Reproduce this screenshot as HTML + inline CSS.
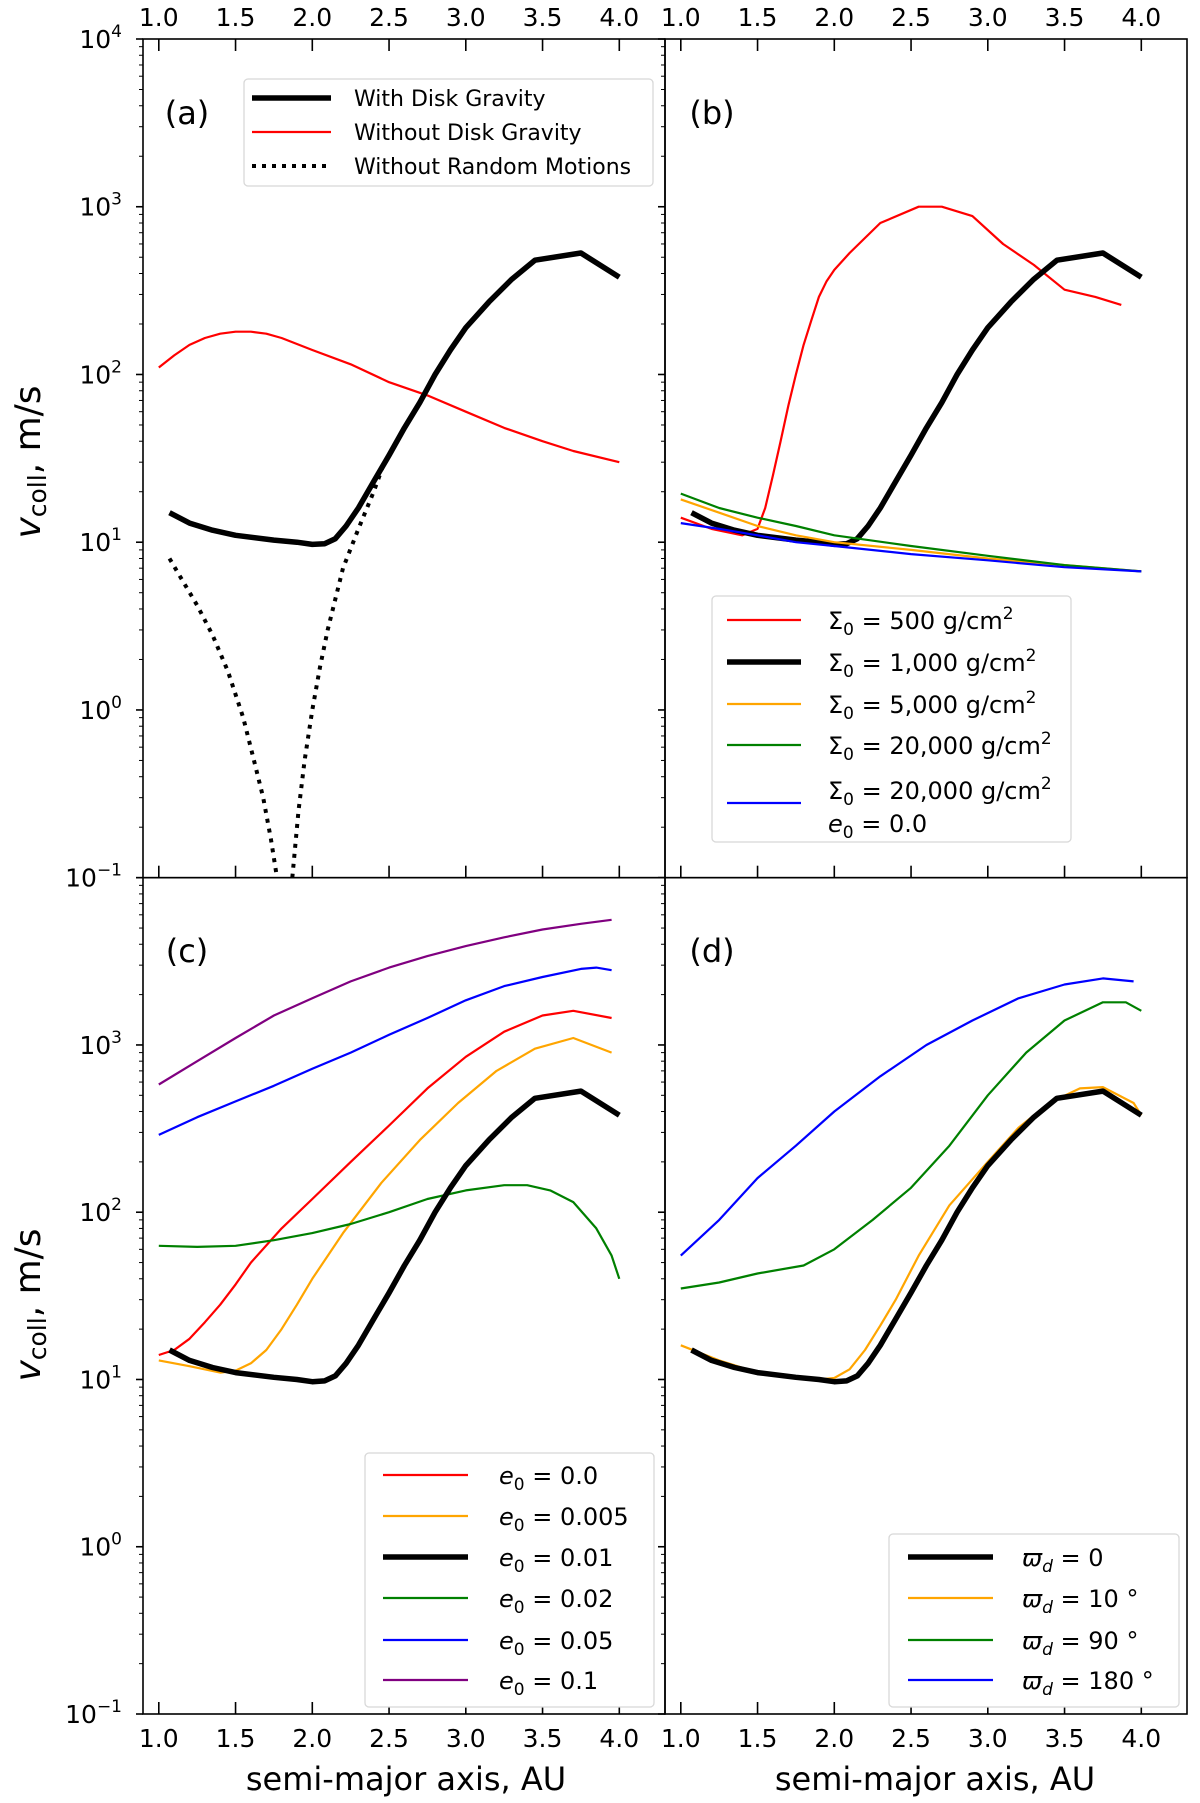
<!DOCTYPE html>
<html><head><meta charset="utf-8"><style>
html,body{margin:0;padding:0;background:#fff;}
svg{display:block;font-family:"DejaVu Sans","Liberation Sans",sans-serif;}
</style></head><body>
<svg id="fig" width="1200" height="1803" viewBox="0 0 1200 1803" xmlns="http://www.w3.org/2000/svg"></svg>
<script>
// ---- data ----
const blackX = [1.07,1.2,1.35,1.5,1.75,1.9,2.0,2.08,2.15,2.22,2.3,2.4,2.5,2.6,2.7,2.8,2.9,3.0,3.15,3.3,3.45,3.75,4.0];
const blackY = [15,13,11.8,11,10.3,10,9.7,9.8,10.5,12.5,16,23,33,48,68,100,140,190,270,370,480,530,380];
const aRedX = [1.0,1.1,1.2,1.3,1.4,1.5,1.6,1.7,1.8,2.0,2.25,2.5,2.75,3.0,3.25,3.5,3.7,4.0];
const aRedY = [110,130,150,165,175,180,180,175,165,140,115,90,75,60,48,40,35,30];
const dotLX = [1.07,1.15,1.25,1.35,1.45,1.55,1.62,1.68,1.73,1.77];
const dotLY = [8,6,4.2,2.8,1.7,0.9,0.5,0.3,0.17,0.1];
const dotRX = [1.87,1.91,1.95,2.0,2.05,2.1,2.2,2.3,2.4,2.47];
const dotRY = [0.1,0.25,0.5,1,1.8,3,7,12,20,30];
const bRedX = [1.0,1.2,1.4,1.5,1.55,1.6,1.65,1.7,1.75,1.8,1.85,1.9,1.95,2.0,2.1,2.3,2.55,2.7,2.9,3.1,3.3,3.5,3.7,3.87];
const bRedY = [14,12,11,12,16,25,40,65,100,150,210,290,360,420,530,800,1000,1000,880,600,450,320,290,260];
const bX = [1.0,1.25,1.5,1.75,2.0,2.5,3.0,3.5,4.0];
const bOrangeY = [18,15,12.5,11,10,9,8,7.3,6.7];
const bGreenY = [19.5,16,14,12.5,11,9.5,8.3,7.3,6.7];
const bBlueY = [13,12,11,10,9.5,8.5,7.8,7.1,6.7];
const cPurpleX = [1.0,1.25,1.5,1.75,2.0,2.25,2.5,2.75,3.0,3.25,3.5,3.75,3.95];
const cPurpleY = [580,800,1100,1500,1900,2400,2900,3400,3900,4400,4900,5300,5600];
const cBlueX = [1.0,1.25,1.5,1.75,2.0,2.25,2.5,2.75,3.0,3.25,3.5,3.75,3.85,3.95];
const cBlueY = [290,370,460,570,720,900,1150,1450,1850,2250,2550,2850,2900,2800];
const cRedX = [1.0,1.1,1.2,1.3,1.4,1.5,1.6,1.8,2.0,2.25,2.5,2.75,3.0,3.25,3.5,3.7,3.95];
const cRedY = [14,15,17.5,22,28,37,50,80,120,200,330,550,850,1200,1500,1600,1450];
const cOrangeX = [1.0,1.2,1.4,1.5,1.6,1.7,1.8,1.9,2.0,2.2,2.45,2.7,2.95,3.2,3.45,3.7,3.95];
const cOrangeY = [13,12,11,11.3,12.5,15,20,28,40,75,150,270,450,700,950,1100,900];
const cGreenX = [1.0,1.25,1.5,1.75,2.0,2.25,2.5,2.75,3.0,3.25,3.4,3.55,3.7,3.85,3.95,4.0];
const cGreenY = [63,62,63,68,75,85,100,120,135,145,145,135,115,80,55,40];
const dOrangeX = [1.0,1.25,1.5,1.75,1.9,2.0,2.1,2.2,2.3,2.4,2.55,2.75,3.0,3.2,3.4,3.6,3.75,3.95,4.0];
const dOrangeY = [16,13,11,10.3,10,10.2,11.5,15,21,30,55,110,200,320,450,550,560,450,380];
const dGreenX = [1.0,1.25,1.5,1.8,2.0,2.25,2.5,2.75,3.0,3.25,3.5,3.75,3.9,4.0];
const dGreenY = [35,38,43,48,60,90,140,250,500,900,1400,1800,1800,1600];
const dBlueX = [1.0,1.25,1.5,1.75,2.0,2.3,2.6,2.9,3.2,3.5,3.75,3.95];
const dBlueY = [55,90,160,250,400,650,1000,1400,1900,2300,2500,2400];
const xTicks = [1.0,1.5,2.0,2.5,3.0,3.5,4.0];
const xTickLabels = ["1.0","1.5","2.0","2.5","3.0","3.5","4.0"];
const yExps = [-1,0,1,2,3,4];

// ---- layout ----
const NS="http://www.w3.org/2000/svg";
const svg=document.getElementById('fig');
const panels={
 a:{L:143,R:665,T:39,B:877.7},
 b:{L:665,R:1187,T:39,B:877.7},
 c:{L:143,R:665,T:877.7,B:1714},
 d:{L:665,R:1187,T:877.7,B:1714}
};
function sx(p,x){return p.L+15.8+(x-1)*153.5;}
function sy(p,v){return p.B-(Math.log10(v)+1)*(p.B-p.T)/5;}
function mk(tag,attrs,parent){const e=document.createElementNS(NS,tag);for(const k in attrs)e.setAttribute(k,attrs[k]);(parent||svg).appendChild(e);return e;}

const defs=mk('defs',{});
for(const k in panels){
 const p=panels[k];
 const cp=mk('clipPath',{id:'clip-'+k},defs);
 mk('rect',{x:p.L,y:p.T,width:p.R-p.L,height:p.B-p.T},cp);
}

function series(k,xs,ys,color,w,name,dash){
 const p=panels[k];
 let d='';
 for(let i=0;i<xs.length;i++){d+=(i?'L':'M')+sx(p,xs[i]).toFixed(1)+','+sy(p,ys[i]).toFixed(1);}
 const e=mk('path',{d:d,fill:'none',stroke:color,'stroke-width':w,'stroke-linejoin':'round','clip-path':'url(#clip-'+k+')'});
 if(dash)e.setAttribute('stroke-dasharray',dash);
 
 
 return e;
}

for(const k in panels){
 const p=panels[k];
 const g=mk('g',{});
 
 
 mk('rect',{x:p.L,y:p.T,width:p.R-p.L,height:p.B-p.T,fill:'none',stroke:'#000','stroke-width':1.6},g);
 xTicks.forEach(t=>{
   const x=sx(p,t);
   mk('line',{x1:x,x2:x,y1:p.B,y2:p.B-12,stroke:'#000','stroke-width':1.6},g);
   if(k==='a'||k==='b') mk('line',{x1:x,x2:x,y1:p.T,y2:p.T+12,stroke:'#000','stroke-width':1.6},g);
 });
 for(let e=-1;e<=4;e++){
   mk('line',{x1:p.L,x2:p.L-7,y1:sy(p,Math.pow(10,e)),y2:sy(p,Math.pow(10,e)),stroke:'#000','stroke-width':1.6},g);
   if(e<4) for(let m=2;m<=9;m++){const y=sy(p,m*Math.pow(10,e));mk('line',{x1:p.L,x2:p.L-4,y1:y,y2:y,stroke:'#000','stroke-width':1},g);}
 }
}
function txt(x,y,s,size,anchor,name,extra){
 const t=mk('text',Object.assign({x:x,y:y,'font-size':size,'text-anchor':anchor||'middle',fill:'#000'},extra||{}));
 t.textContent=s;
 
 
 return t;
}
['a','b'].forEach(k=>xTicks.forEach((t,i)=>txt(sx(panels[k],t),26,xTickLabels[i],25,'middle','top-x-tick-label')));
['c','d'].forEach(k=>xTicks.forEach((t,i)=>txt(sx(panels[k],t),1747,xTickLabels[i],25,'middle','bottom-x-tick-label')));
['a','c'].forEach(k=>yExps.forEach(e=>{
 if(k==='c'&&e===4)return;
 const p=panels[k];const y=sy(p,Math.pow(10,e));
 const t=txt(122,y+9,'',25,'end','y-tick-label');
 const base=document.createElementNS(NS,'tspan');base.textContent='10';
 const s=document.createElementNS(NS,'tspan');
 s.setAttribute('font-size','17');s.setAttribute('dy','-11');
 s.textContent=(e<0?'\u2212':'')+Math.abs(e);
 t.appendChild(base);t.appendChild(s);
}));
txt(406,1790,'semi-major axis, AU',32,'middle','x-axis-title');
txt(935,1790,'semi-major axis, AU',32,'middle','x-axis-title');
function ylab(cy){
 const t=mk('text',{x:0,y:0,'font-size':36,'text-anchor':'middle',transform:'translate(40,'+cy+') rotate(-90)'});
 
 
 t.innerHTML='<tspan font-style="italic">v</tspan><tspan font-size="25" dy="6">coll</tspan><tspan dy="-6">, m/s</tspan>';
}
ylab(462);ylab(1305);
txt(187,124,'(a)',32,'middle','panel-label-a');
txt(712,124,'(b)',32,'middle','panel-label-b');
txt(187,962,'(c)',32,'middle','panel-label-c');
txt(712,962,'(d)',32,'middle','panel-label-d');

series('a',aRedX,aRedY,'#ff0000',2.2,'a-without-disk-gravity');
series('a',dotLX,dotLY,'#000',4,'a-without-random-motions-left','4,6');
series('a',dotRX,dotRY,'#000',4,'a-without-random-motions-right','4,6');
series('a',blackX,blackY,'#000',5.5,'a-with-disk-gravity');
series('b',bRedX,bRedY,'#ff0000',2.2,'b-sigma-500');
series('b',blackX,blackY,'#000',5.5,'b-sigma-1000');
series('b',bX,bOrangeY,'#ffa500',2.2,'b-sigma-5000');
series('b',bX,bGreenY,'#008000',2.2,'b-sigma-20000');
series('b',bX,bBlueY,'#0000ff',2.2,'b-sigma-20000-e0');
series('c',cPurpleX,cPurpleY,'#800080',2.2,'c-e0-0.1');
series('c',cBlueX,cBlueY,'#0000ff',2.2,'c-e0-0.05');
series('c',cRedX,cRedY,'#ff0000',2.2,'c-e0-0.0');
series('c',cOrangeX,cOrangeY,'#ffa500',2.2,'c-e0-0.005');
series('c',cGreenX,cGreenY,'#008000',2.2,'c-e0-0.02');
series('c',blackX,blackY,'#000',5.5,'c-e0-0.01');
series('d',dBlueX,dBlueY,'#0000ff',2.2,'d-w-180');
series('d',dGreenX,dGreenY,'#008000',2.2,'d-w-90');
series('d',dOrangeX,dOrangeY,'#ffa500',2.2,'d-w-10');
series('d',blackX,blackY,'#000',5.5,'d-w-0');

function legend(name,box,x1,x2,tx,rows){
 const g=mk('g',{});
 
 
 mk('rect',{x:box[0],y:box[1],width:box[2],height:box[3],rx:4,fill:'#fff',stroke:'#d8d8d8','stroke-width':1.3},g);
 rows.forEach(r=>{
  const l=mk('line',{x1:x1,x2:x2,y1:r.ly,y2:r.ly,stroke:r.c,'stroke-width':r.w},g);
  if(r.dash)l.setAttribute('stroke-dasharray',r.dash);
  r.t.forEach((s,i)=>{
   const t=mk('text',{x:tx,y:r.ty+i*33,'font-size':r.fs||24,fill:'#000'},g);
   t.innerHTML=s;
   
   
  });
 });
}
const sig=v=>'Σ<tspan font-size="17" dy="6">0</tspan><tspan dy="-6"> = '+v+' g/cm</tspan><tspan font-size="17" dy="-10">2</tspan>';
const e0=v=>'<tspan font-style="italic">e</tspan><tspan font-size="17" dy="6">0</tspan><tspan dy="-6"> = '+v+'</tspan>';
const wd=v=>'<tspan font-style="italic">ϖ</tspan><tspan font-size="17" dy="6" font-style="italic">d</tspan><tspan dy="-6"> = '+v+'</tspan>';
legend('legend-a',[244,79,409,107],252,331,354,[
 {ly:98,ty:106,c:'#000',w:5.5,t:['With Disk Gravity'],fs:22},
 {ly:132,ty:140,c:'#ff0000',w:2.2,t:['Without Disk Gravity'],fs:22},
 {ly:166,ty:174,c:'#000',w:4,dash:'4,6',t:['Without Random Motions'],fs:22}]);
legend('legend-b',[712,596,359,246],727,801,828,[
 {ly:620,ty:629,c:'#ff0000',w:2.2,t:[sig('500')]},
 {ly:662,ty:671,c:'#000',w:5.5,t:[sig('1,000')]},
 {ly:704,ty:713,c:'#ffa500',w:2.2,t:[sig('5,000')]},
 {ly:745,ty:754,c:'#008000',w:2.2,t:[sig('20,000')]},
 {ly:803,ty:799,c:'#0000ff',w:2.2,t:[sig('20,000'),' '+e0('0.0')]}]);
legend('legend-c',[365,1453,289,254],383,468,499,[
 {ly:1475,ty:1484,c:'#ff0000',w:2.2,t:[e0('0.0')]},
 {ly:1516,ty:1525,c:'#ffa500',w:2.2,t:[e0('0.005')]},
 {ly:1557,ty:1566,c:'#000',w:5.5,t:[e0('0.01')]},
 {ly:1598,ty:1607,c:'#008000',w:2.2,t:[e0('0.02')]},
 {ly:1640,ty:1649,c:'#0000ff',w:2.2,t:[e0('0.05')]},
 {ly:1680,ty:1689,c:'#800080',w:2.2,t:[e0('0.1')]}]);
legend('legend-d',[889,1534,290,173],908,993,1022,[
 {ly:1557,ty:1566,c:'#000',w:5.5,t:[wd('0')]},
 {ly:1598,ty:1607,c:'#ffa500',w:2.2,t:[wd('10 °')]},
 {ly:1640,ty:1649,c:'#008000',w:2.2,t:[wd('90 °')]},
 {ly:1680,ty:1689,c:'#0000ff',w:2.2,t:[wd('180 °')]}]);
</script>
</body></html>
